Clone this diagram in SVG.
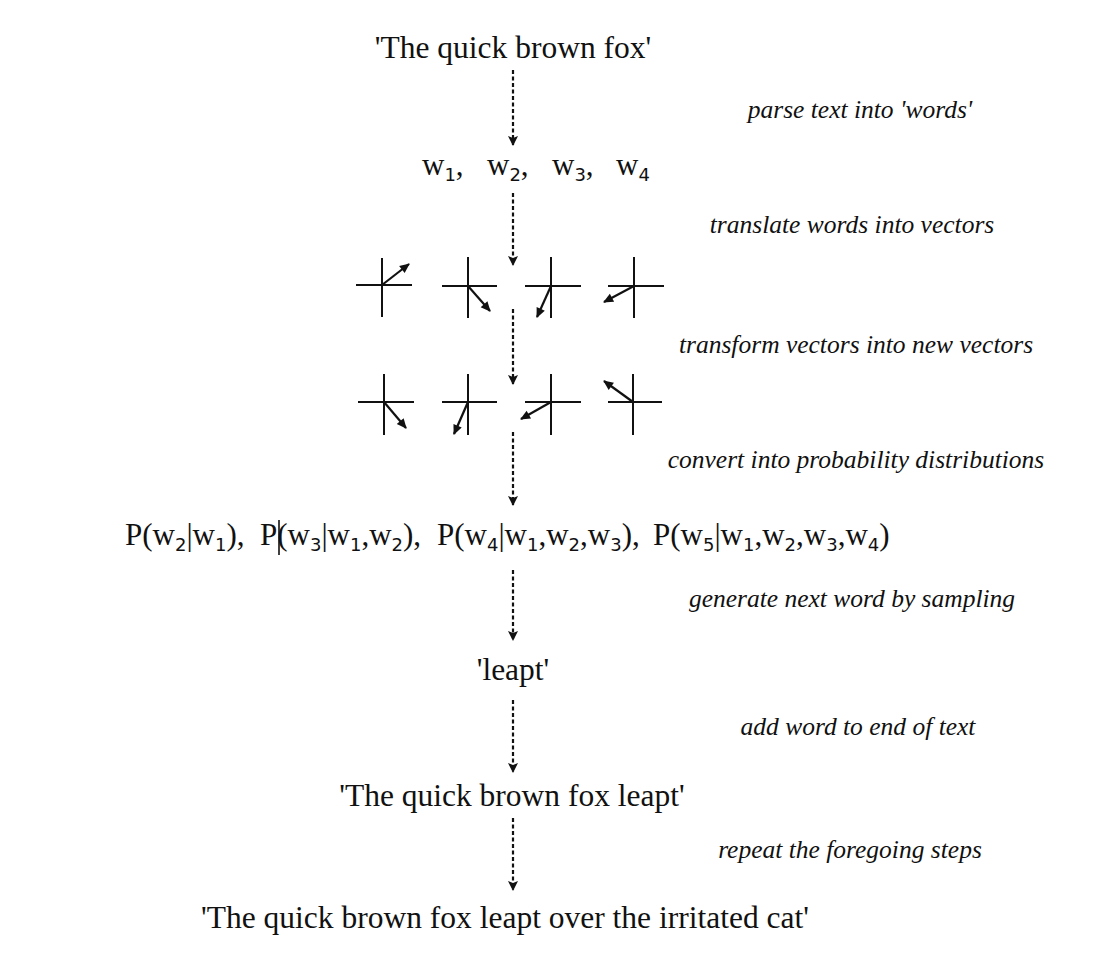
<svg xmlns="http://www.w3.org/2000/svg" width="1120" height="960" viewBox="0 0 1120 960">
<style>
.t{font-family:"Liberation Serif","DejaVu Serif",serif;font-size:31.5px;fill:#111}
.p{font-family:"Liberation Serif","DejaVu Serif",serif;font-size:31px;fill:#111}
.l{font-family:"Liberation Serif","DejaVu Serif",serif;font-style:italic;font-size:25.5px;fill:#111;text-anchor:middle}
.s{font-family:"DejaVu Sans","Liberation Sans",sans-serif;font-size:18px}
.d{stroke:#111;stroke-width:2.2;stroke-dasharray:4 2.5;fill:none}
.ax{stroke:#111;stroke-width:2;fill:none}
.v{stroke:#111;stroke-width:2.2;fill:none}
</style>
<defs>
<marker id="ah" viewBox="0 0 10 10" refX="9" refY="5" markerWidth="10" markerHeight="10" markerUnits="userSpaceOnUse" orient="auto"><path d="M0,0 L10,5 L0,10 L2,5 z" fill="#111"/></marker>
<marker id="vh" viewBox="0 0 10 10" refX="9" refY="5" markerWidth="11" markerHeight="10" markerUnits="userSpaceOnUse" orient="auto"><path d="M0,0.5 L10,5 L0,9.5 z" fill="#111"/></marker>
</defs>
<rect width="1120" height="960" fill="#fff"/>

<g id="connectors">
<line class="d" x1="513" y1="70" x2="513" y2="145" marker-end="url(#ah)"/>
<line class="d" x1="513" y1="193" x2="513" y2="265" marker-end="url(#ah)"/>
<line class="d" x1="513" y1="309" x2="513" y2="384" marker-end="url(#ah)"/>
<line class="d" x1="513" y1="432" x2="513" y2="505" marker-end="url(#ah)"/>
<line class="d" x1="513" y1="570" x2="513" y2="640" marker-end="url(#ah)"/>
<line class="d" x1="513" y1="700" x2="513" y2="772" marker-end="url(#ah)"/>
<line class="d" x1="513" y1="818" x2="513" y2="890" marker-end="url(#ah)"/>
</g>

<g id="labels">
<text class="l" x="860" y="118">parse text into 'words'</text>
<text class="l" x="852" y="233">translate words into vectors</text>
<text class="l" x="856" y="353">transform vectors into new vectors</text>
<text class="l" x="856" y="468">convert into probability distributions</text>
<text class="l" x="852" y="607">generate next word by sampling</text>
<text class="l" x="858" y="735">add word to end of text</text>
<text class="l" x="850" y="858">repeat the foregoing steps</text>
</g>

<g id="n-input"><text class="t" x="513" y="58" text-anchor="middle">'The quick brown fox'</text></g>

<g id="n-words">
<text class="p" x="422" y="175">w<tspan class="s" dy="6">1</tspan><tspan dy="-6">,</tspan></text>
<text class="p" x="487" y="175">w<tspan class="s" dy="6">2</tspan><tspan dy="-6">,</tspan></text>
<text class="p" x="552" y="175">w<tspan class="s" dy="6">3</tspan><tspan dy="-6">,</tspan></text>
<text class="p" x="616" y="175">w<tspan class="s" dy="6">4</tspan></text>
</g>

<g id="n-vectors">
<line class="ax" x1="356" y1="285" x2="412" y2="285"/><line class="ax" x1="382" y1="258" x2="382" y2="317"/>
<line class="v" x1="382" y1="285" x2="409" y2="264" marker-end="url(#vh)"/>
<line class="ax" x1="442" y1="286" x2="497" y2="286"/><line class="ax" x1="468" y1="257" x2="468" y2="318"/>
<line class="v" x1="468" y1="286" x2="490" y2="311" marker-end="url(#vh)"/>
<line class="ax" x1="525" y1="286" x2="581" y2="286"/><line class="ax" x1="551" y1="257" x2="551" y2="318"/>
<line class="v" x1="551" y1="286" x2="537" y2="317" marker-end="url(#vh)"/>
<line class="ax" x1="608" y1="286" x2="664" y2="286"/><line class="ax" x1="634" y1="257" x2="634" y2="318"/>
<line class="v" x1="634" y1="286" x2="604" y2="302" marker-end="url(#vh)"/>
</g>

<g id="n-newvectors">
<line class="ax" x1="358" y1="402" x2="414" y2="402"/><line class="ax" x1="384" y1="374" x2="384" y2="435"/>
<line class="v" x1="384" y1="402" x2="406" y2="428" marker-end="url(#vh)"/>
<line class="ax" x1="442" y1="402" x2="497" y2="402"/><line class="ax" x1="468" y1="374" x2="468" y2="435"/>
<line class="v" x1="468" y1="402" x2="454" y2="434" marker-end="url(#vh)"/>
<line class="ax" x1="525" y1="402" x2="581" y2="402"/><line class="ax" x1="551" y1="374" x2="551" y2="435"/>
<line class="v" x1="551" y1="402" x2="521" y2="419" marker-end="url(#vh)"/>
<line class="ax" x1="608" y1="402" x2="662" y2="402"/><line class="ax" x1="633" y1="374" x2="633" y2="435"/>
<line class="v" x1="633" y1="402" x2="604" y2="381" marker-end="url(#vh)"/>
</g>

<g id="n-probs">
<text class="p" x="125" y="545">P(w<tspan class="s" dy="6">2</tspan><tspan dy="-6">|w</tspan><tspan class="s" dy="6">1</tspan><tspan dy="-6">),</tspan></text>
<text class="p" x="260" y="545">P(w<tspan class="s" dy="6">3</tspan><tspan dy="-6">|w</tspan><tspan class="s" dy="6">1</tspan><tspan dy="-6">,w</tspan><tspan class="s" dy="6">2</tspan><tspan dy="-6">),</tspan></text>
<text class="p" x="437" y="545">P(w<tspan class="s" dy="6">4</tspan><tspan dy="-6">|w</tspan><tspan class="s" dy="6">1</tspan><tspan dy="-6">,w</tspan><tspan class="s" dy="6">2</tspan><tspan dy="-6">,w</tspan><tspan class="s" dy="6">3</tspan><tspan dy="-6">),</tspan></text>
<text class="p" x="653" y="545">P(w<tspan class="s" dy="6">5</tspan><tspan dy="-6">|w</tspan><tspan class="s" dy="6">1</tspan><tspan dy="-6">,w</tspan><tspan class="s" dy="6">2</tspan><tspan dy="-6">,w</tspan><tspan class="s" dy="6">3</tspan><tspan dy="-6">,w</tspan><tspan class="s" dy="6">4</tspan><tspan dy="-6">)</tspan></text>
<line x1="279" y1="520" x2="279" y2="555" stroke="#111" stroke-width="1.6"/>
</g>

<g id="n-leapt"><text class="t" x="513" y="680" text-anchor="middle">'leapt'</text></g>
<g id="n-extended"><text class="t" x="512" y="806" text-anchor="middle">'The quick brown fox leapt'</text></g>
<g id="n-final"><text class="t" x="505" y="928" text-anchor="middle">'The quick brown fox leapt over the irritated cat'</text></g>
</svg>
